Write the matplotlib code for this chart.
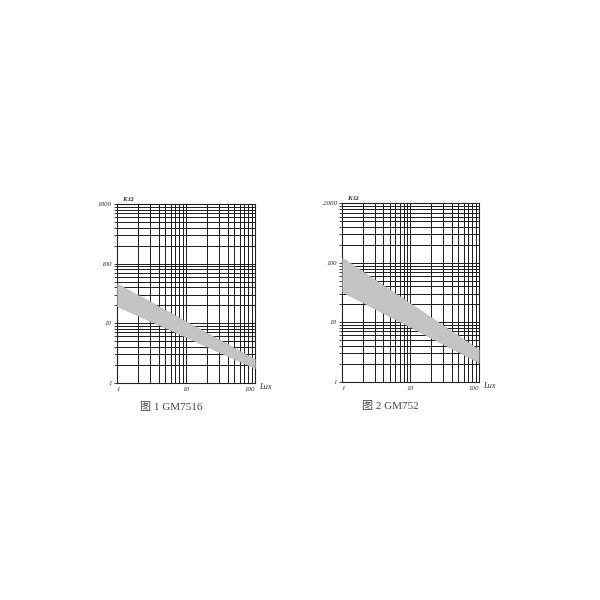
import matplotlib
matplotlib.use("Agg")
import matplotlib.pyplot as plt
from matplotlib.ticker import LogLocator, NullFormatter, FixedLocator, FixedFormatter

# ---- data ----
lux_ends = [1, 100]
gm7516_upper = [46.6, 2.5]
gm7516_lower = [19.3, 1.76]
gm752_upper = [123, 3.5]
gm752_lower = [32.6, 2.09]

x_ticks = [1, 10, 100]
x_labels = ["1", "10", "100"]
y_ticks = [1, 10, 100, 1000]
y_labels_1 = ["1", "10", "100", "1000"]
y_labels_2 = ["1", "10", "100", "2000"]
captions = ["图 1 GM7516", "图 2 GM752"]
y_unit = "K Ω"
x_unit = "Lux"

band_color = "#c4c4c4"

fig = plt.figure(figsize=(6, 6), dpi=100)
fig.patch.set_facecolor("white")

ax_specs = [
    ([0.195, 0.362, 0.230, 0.298], gm7516_upper, gm7516_lower, y_labels_1, captions[0], 0.39),
    ([0.570, 0.364, 0.228, 0.297], gm752_upper, gm752_lower, y_labels_2, captions[1], 0.35),
]

serif = ["Liberation Serif", "DejaVu Serif"]
cap_font = ["Liberation Serif", "Noto Sans CJK SC"]

for rect, up, lo, ylabs, cap, cap_x in ax_specs:
    ax = fig.add_axes(rect)
    ax.set_xscale("log")
    ax.set_yscale("log")
    ax.set_xlim(1, 100)
    ax.set_ylim(1, 1000)
    ax.fill_between(lux_ends, lo, up, facecolor=band_color, edgecolor="#a8a8a8",
                    linewidth=0.3, zorder=3)
    ax.xaxis.set_major_locator(FixedLocator(x_ticks))
    ax.xaxis.set_major_formatter(FixedFormatter(x_labels))
    ax.yaxis.set_major_locator(FixedLocator(y_ticks))
    ax.yaxis.set_major_formatter(FixedFormatter(ylabs))
    ax.xaxis.set_minor_locator(LogLocator(base=10, subs=range(2, 10), numticks=20))
    ax.yaxis.set_minor_locator(LogLocator(base=10, subs=range(2, 10), numticks=20))
    ax.xaxis.set_minor_formatter(NullFormatter())
    ax.yaxis.set_minor_formatter(NullFormatter())
    ax.grid(True, which="both", color="#1a1a1a", linewidth=0.7, zorder=1)
    ax.set_axisbelow(True)
    for s in ax.spines.values():
        s.set_color("#222222")
        s.set_linewidth(0.8)
    ax.tick_params(axis="both", which="both", direction="out", length=2,
                   width=0.6, colors="#222222", labelsize=5, pad=1.5)
    ax.tick_params(axis="x", which="both", length=0, pad=3)
    for lab in ax.get_xticklabels() + ax.get_yticklabels():
        lab.set_fontfamily(serif)
        lab.set_fontstyle("italic")
        lab.set_color("#333333")
    xl = ax.get_xticklabels()
    xl[0].set_horizontalalignment("left")
    xl[-1].set_horizontalalignment("right")
    ax.text(0.04, 1.012, y_unit, transform=ax.transAxes, fontsize=5,
            fontstyle="italic", fontweight="bold", family=serif,
            color="#333333", ha="left", va="bottom")
    ax.text(1.03, -0.025, x_unit, transform=ax.transAxes, fontsize=6,
            fontstyle="italic", family=serif, color="#333333",
            ha="left", va="center")
    ax.text(cap_x, -0.135, cap, transform=ax.transAxes, fontsize=8,
            family=cap_font, color="#444444", ha="center", va="center")

fig.savefig("out.png", dpi=100, facecolor="white")
